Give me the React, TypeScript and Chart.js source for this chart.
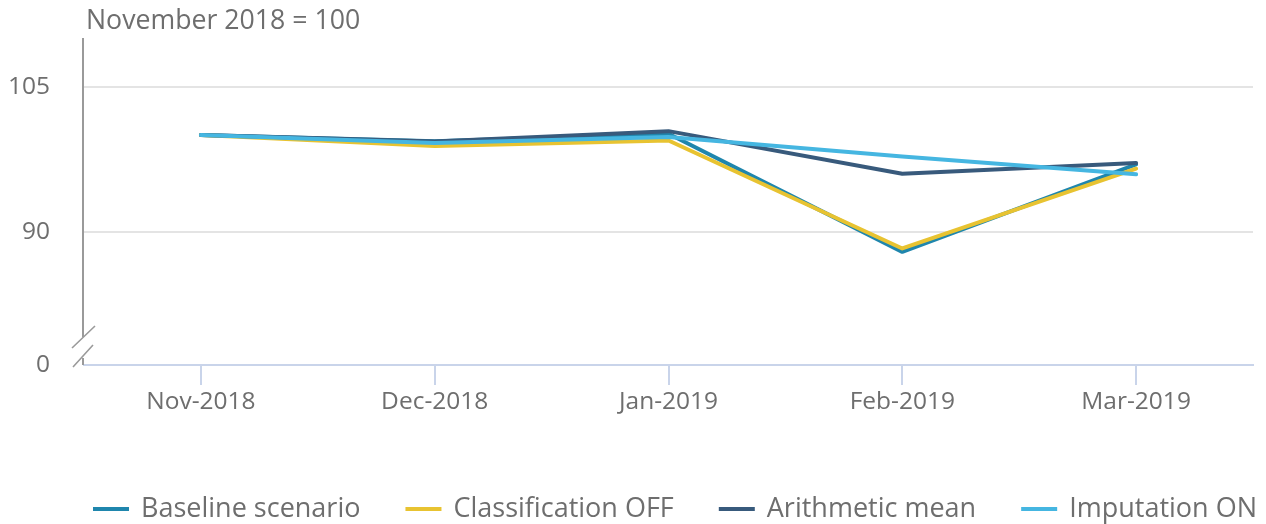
import React, { useEffect, useRef } from "react";
import { Chart, registerables } from "chart.js";

Chart.register(...registerables);

const categories = ["Nov-2018", "Dec-2018", "Jan-2019", "Feb-2019", "Mar-2019"];
const baselineScenario = [100, 99.38, 100.14, 87.98, 96.99];
const classificationOff = [100, 98.87, 99.45, 88.33, 96.54];
const arithmeticMean = [100, 99.35, 100.41, 96.03, 97.12];
const imputationOn = [100, 99.2, 99.8, 97.81, 95.96];
const yTickValues = [90, 105];
const yBreakLabel = "0";
const yMin = 76.33;
const yMax = 110;
const unitTitle = "November 2018 = 100";

const seriesNames = ["Baseline scenario", "Classification OFF", "Arithmetic mean", "Imputation ON"];
const seriesColors = ["#1f86ad", "#e8c331", "#385a7c", "#45b6e1"];

const FONT = "'Open Sans', sans-serif";
const TEXT = "#6e6e6e";

const overlayPlugin = {
  id: "overlay",
  afterDraw(chart: any) {
    const ctx = chart.ctx;
    const ca = chart.chartArea;
    const x = ca.left - 1;
    ctx.save();
    // y axis line with break
    ctx.strokeStyle = "#9a9a9a";
    ctx.lineWidth = 2;
    ctx.beginPath();
    ctx.moveTo(x, ca.top);
    ctx.lineTo(x, ca.bottom - 28);
    ctx.moveTo(x, ca.bottom - 7);
    ctx.lineTo(x, ca.bottom);
    ctx.stroke();
    ctx.lineWidth = 1.6;
    ctx.beginPath();
    ctx.moveTo(x - 11, ca.bottom - 17);
    ctx.lineTo(x + 12, ca.bottom - 39);
    ctx.moveTo(x - 10, ca.bottom + 2);
    ctx.lineTo(x + 10, ca.bottom - 20);
    ctx.stroke();
    // title
    ctx.fillStyle = TEXT;
    ctx.font = `26.7px ${FONT}`;
    ctx.textAlign = "left";
    ctx.textBaseline = "middle";
    ctx.fillText(unitTitle, ca.left + 2, 21);
    // legend
    ctx.font = `27px ${FONT}`;
    const markerW = 36;
    const gap = 12;
    const spacing = 45;
    const widths = seriesNames.map((n) => ctx.measureText(n).width);
    const total = widths.reduce((a, w) => a + markerW + gap + w, 0) + spacing * (seriesNames.length - 1);
    let lx = (ca.left + ca.right) / 2 + 6.5 - total / 2;
    const ly = 509;
    seriesNames.forEach((n, i) => {
      ctx.fillStyle = seriesColors[i];
      ctx.fillRect(lx, ly - 2, markerW, 4);
      ctx.fillStyle = TEXT;
      ctx.fillText(n, lx + markerW + gap, ly);
      lx += markerW + gap + widths[i] + spacing;
    });
    ctx.restore();
  },
};

export default function App() {
  const ref = useRef<HTMLCanvasElement>(null);
  useEffect(() => {
    document.body.style.margin = "0";
    const series = [baselineScenario, classificationOff, arithmeticMean, imputationOn];
    const chart = new Chart(ref.current!, {
      type: "line",
      data: {
        labels: categories,
        datasets: series.map((d, i) => ({
          label: seriesNames[i],
          data: d,
          borderColor: seriesColors[i],
          backgroundColor: seriesColors[i],
          borderWidth: 4,
          borderCapStyle: "round" as const,
          borderJoinStyle: "round" as const,
          pointRadius: 0,
          tension: 0,
          order: 4 - i,
        })),
      },
      options: {
        animation: false,
        responsive: false,
        maintainAspectRatio: false,
        layout: { padding: { top: 38, right: 13, left: 0, bottom: 0 } },
        plugins: { legend: { display: false }, tooltip: { enabled: false } },
        scales: {
          x: {
            offset: true,
            afterFit: (s: any) => {
              s.height = 159;
              s.paddingLeft = 0;
              s.paddingRight = 0;
            },
            grid: {
              drawOnChartArea: false,
              drawTicks: true,
              tickLength: 20,
              color: "#c9d4ea",
              lineWidth: 2,
              offset: false,
            },
            border: { display: true, color: "#c9d4ea", width: 2 },
            ticks: { color: TEXT, font: { family: FONT, size: 24.5 }, padding: 2, maxRotation: 0 },
          },
          y: {
            min: yMin,
            max: yMax,
            afterFit: (s: any) => {
              s.width = 84;
              s.paddingTop = 0;
              s.paddingBottom = 0;
            },
            afterBuildTicks: (s: any) => {
              s.ticks = [{ value: yMin }, ...yTickValues.map((v) => ({ value: v }))];
            },
            grid: {
              drawTicks: false,
              color: (c: any) => (c.tick && c.tick.value === yMin ? "rgba(0,0,0,0)" : "#e4e4e4"),
              lineWidth: 2,
            },
            border: { display: false },
            ticks: {
              color: TEXT,
              font: { family: FONT, size: 24.5 },
              padding: 34,
              callback: (v: any) => (v === yMin ? yBreakLabel : String(v)),
            },
          },
        },
      },
      plugins: [overlayPlugin],
    });
    return () => chart.destroy();
  }, []);
  return <canvas ref={ref} width={1266} height={524} style={{ display: "block" }} />;
}
